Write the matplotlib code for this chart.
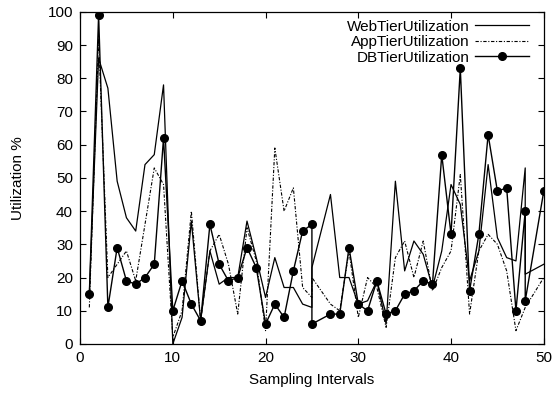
#!/usr/bin/env python3

import matplotlib
matplotlib.use('Agg')
import matplotlib.pyplot as plt

plt.rcParams['font.family'] = ['Liberation Sans', 'DejaVu Sans']
plt.rcParams['font.size'] = 11

# sampling intervals (25 and 48 appear twice in the source data)
x = [1, 2, 3, 4, 5, 6, 7, 8, 9, 10, 11, 12, 13, 14, 15, 16, 17, 18, 19, 20,
     21, 22, 23, 24, 25, 25, 27, 28, 29, 30, 31, 32, 33, 34, 35, 36, 37, 38,
     39, 40, 41, 42, 43, 44, 45, 46, 47, 48, 48, 50]

web = [15, 86, 77, 49, 38, 34, 54, 57, 78, 0, 8, 37, 7, 28, 18, 20, 20, 37, 26, 14,
       26, 17, 17, 12, 11, 23, 45, 20, 20, 12, 13, 19, 6, 49, 22, 31, 27, 17,
       28, 48, 42, 19, 28, 54, 32, 26, 25, 53, 21, 24]

app = [11, 92, 20, 24, 28, 19, 36, 53, 48, 2, 10, 40, 7, 28, 33, 24, 9, 35, 25, 4,
       59, 40, 47, 17, 14, 20, 12, 10, 28, 8, 20, 17, 5, 26, 31, 20, 31, 16,
       23, 28, 51, 9, 28, 33, 30, 22, 4, 11, 11, 20]

db = [15, 99, 11, 29, 19, 18, 20, 24, 62, 10, 19, 12, 7, 36, 24, 19, 20, 29, 23, 6,
      12, 8, 22, 34, 36, 6, 9, 9, 29, 12, 10, 19, 9, 10, 15, 16, 19, 18,
      57, 33, 83, 16, 33, 63, 46, 47, 10, 40, 13, 46]

fig = plt.figure(figsize=(5.56, 3.94), dpi=100)
ax = fig.add_axes([0.144, 0.127, 0.834, 0.843])

ax.plot(x, web, color='black', lw=0.9, label='WebTierUtilization')
ax.plot(x, app, color='black', lw=0.8, dashes=(3, 1.5, 1, 1.5), label='AppTierUtilization')
ax.plot(x, db, color='black', lw=1.0, marker='o', ms=5.5, label='DBTierUtilization')

ax.set_xlim(0, 50)
ax.set_ylim(0, 100)
ax.set_xticks(range(0, 51, 10))
ax.set_yticks(range(0, 101, 10))
ax.tick_params(direction='in', top=True, right=True, length=4, width=0.8, pad=5)
for s in ax.spines.values():
    s.set_linewidth(0.9)

ax.set_xlabel('Sampling Intervals', labelpad=6)
ax.set_ylabel('Utilization %', labelpad=16)

ax.legend(loc='upper right', bbox_to_anchor=(0.991, 1.009), frameon=False,
          markerfirst=False, handlelength=3.5, handletextpad=0.4,
          labelspacing=0.1, borderaxespad=0.3)

plt.savefig('out.png', dpi=100)
